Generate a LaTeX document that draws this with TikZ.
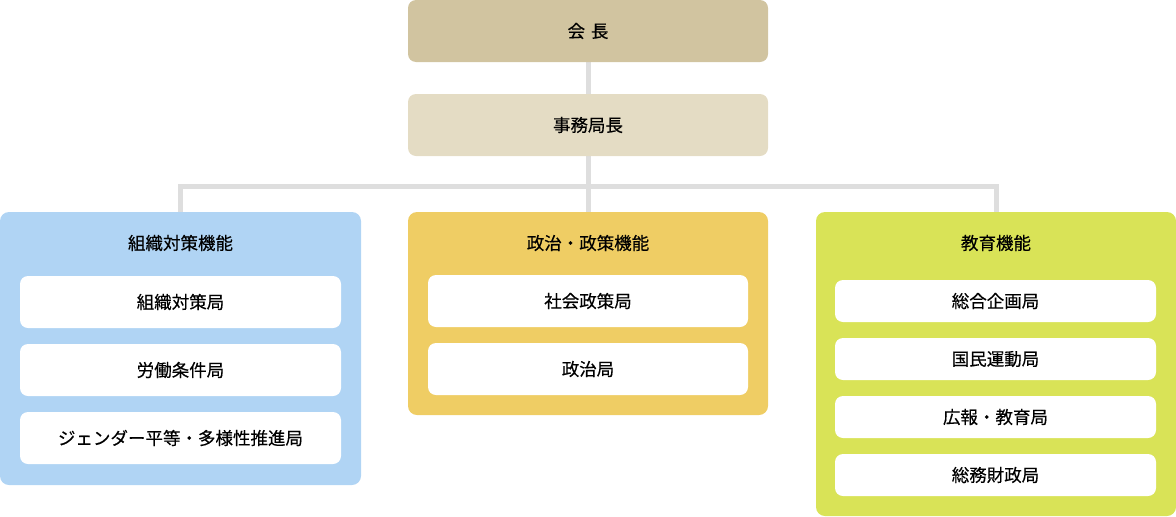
\documentclass[tikz,border=0pt]{standalone}
\usepackage{fontspec}
\setmainfont{Noto Sans CJK JP}[FakeBold=0.4]
\usetikzlibrary{backgrounds}
\definecolor{topc}{HTML}{D1C4A0}
\definecolor{secc}{HTML}{E4DCC4}
\definecolor{bluec}{HTML}{B0D4F4}
\definecolor{yelc}{HTML}{EFCD64}
\definecolor{grnc}{HTML}{D9E357}
\definecolor{linec}{HTML}{DEDEDE}
\tikzset{
  box/.style={rectangle, rounded corners=8pt, inner sep=0pt, font=\fontsize{17.5}{20}\selectfont},
  panel/.style={rectangle, rounded corners=9pt, inner sep=0pt},
  inner/.style={box, fill=white, minimum width=321pt},
  ptitle/.style={inner sep=0pt, font=\fontsize{17.5}{20}\selectfont},
  conn/.style={draw=linec, line width=5pt}
}
\begin{document}
\begin{tikzpicture}[x=1pt,y=-1pt]
\useasboundingbox (0,0) rectangle (1176,517);
% top
\node[box, fill=topc, minimum width=360pt, minimum height=62pt] (kaicho) at (588,31) {会\,\,長};
\node[box, fill=secc, minimum width=360pt, minimum height=62pt] (jimu) at (588,125) {事務局長};
% panels
\node[panel, fill=bluec, minimum width=361pt, minimum height=273pt] (sosiki) at (180.5,348.5) {};
\node[panel, fill=yelc, minimum width=360pt, minimum height=203pt] (seiji) at (588,313.5) {};
\node[panel, fill=grnc, minimum width=360pt, minimum height=304pt] (kyoiku) at (996,364) {};
% titles
\node[ptitle] (t1) at (180.5,243) {組織対策機能};
\node[ptitle] (t2) at (588,243) {政治・政策機能};
\node[ptitle] (t3) at (996,243) {教育機能};
% left inner
\node[inner, minimum height=52pt] (a1) at (180.5,302) {組織対策局};
\node[inner, minimum height=52pt] (a2) at (180.5,370) {労働条件局};
\node[inner, minimum height=52pt] (a3) at (180.5,438) {ジェンダー平等・多様性推進局};
% middle inner
\node[inner, minimum width=320pt, minimum height=52pt] (b1) at (588,301) {社会政策局};
\node[inner, minimum width=320pt, minimum height=52pt] (b2) at (588,369) {政治局};
% right inner
\node[inner, minimum height=42pt] (c1) at (995.5,301) {総合企画局};
\node[inner, minimum height=42pt] (c2) at (995.5,359) {国民運動局};
\node[inner, minimum height=42pt] (c3) at (995.5,417) {広報・教育局};
\node[inner, minimum height=42pt] (c4) at (995.5,475) {総務財政局};
\coordinate (bus) at (588,186);
\begin{pgfonlayer}{background}
\draw[conn] (kaicho.south) -- (jimu.north);
\draw[conn] (jimu.south) -- (seiji.north);
\draw[conn] (sosiki.north) -- (sosiki.north |- bus) -- (kyoiku.north |- bus) -- (kyoiku.north);
\end{pgfonlayer}
\end{tikzpicture}
\end{document}
